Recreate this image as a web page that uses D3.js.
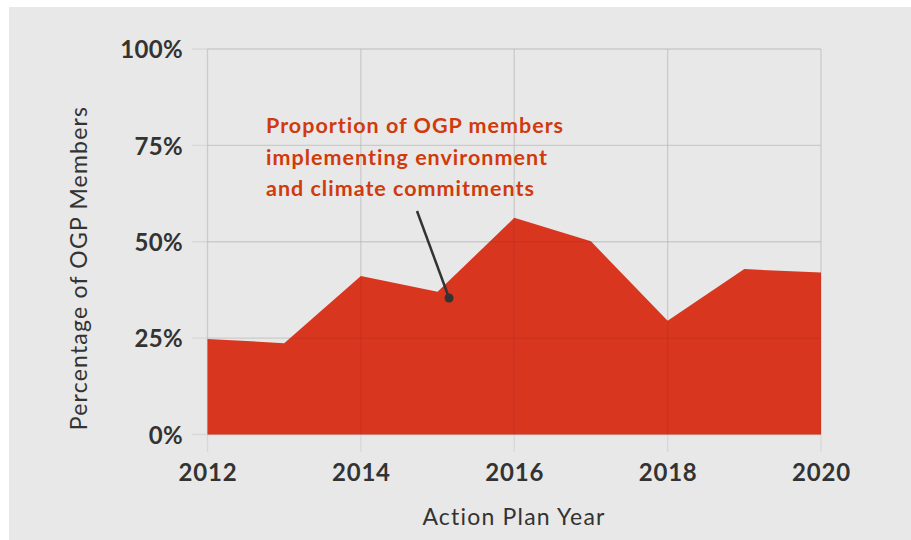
<!DOCTYPE html>
<html>
<head>
<meta charset="utf-8">
<script src="https://cdn.jsdelivr.net/npm/d3@7"></script>
<style>
  html, body { margin: 0; padding: 0; background: #ffffff; }
  svg { display: block; }
  text { font-family: Lato, "Open Sans", sans-serif; }
</style>
</head>
<body>
<svg id="chart" width="911" height="540"></svg>
<script>
// ---- Data ----
const years = [2012, 2013, 2014, 2015, 2016, 2017, 2018, 2019, 2020];
const shares = [24.8, 23.7, 41.1, 37.0, 56.2, 50.1, 29.5, 42.9, 42.0];
const xTicks = [2012, 2014, 2016, 2018, 2020];
const yTicks = [0, 25, 50, 75, 100];
const annotationLines = ["Proportion of OGP members", "implementing environment", "and climate commitments"];
const annotationTarget = [2015.15, 35.4];
const yTitle = "Percentage of OGP Members";
const xTitle = "Action Plan Year";

const data = years.map((y, i) => ({ year: y, value: shares[i] }));

const svg = d3.select("#chart");
svg.append("rect").attr("x", 9).attr("y", 7).attr("width", 902).attr("height", 533).attr("fill", "#e8e8e8");

const x = d3.scaleLinear().domain([2012, 2020]).range([207.5, 821]);
const y = d3.scaleLinear().domain([0, 100]).range([434.5, 49]);

const g = svg.append("g");

// gridlines (under)
const gridColor = "#d8d8d8";
g.selectAll(".hg").data(yTicks).enter().append("line")
  .attr("x1", 192).attr("x2", x(2020))
  .attr("y1", d => y(d)).attr("y2", d => y(d))
  .attr("stroke", gridColor).attr("stroke-width", 1.3);
g.selectAll(".vg").data(xTicks).enter().append("line")
  .attr("x1", d => x(d)).attr("x2", d => x(d))
  .attr("y1", y(100)).attr("y2", 452)
  .attr("stroke", gridColor).attr("stroke-width", 1.3);

// area
const area = d3.area().x(d => x(d.year)).y0(y(0)).y1(d => y(d.value)).curve(d3.curveLinear);
g.append("path").datum(data).attr("d", area).attr("fill", "#d93620");

// gridlines over area (faint)
g.selectAll(".hg2").data(yTicks).enter().append("line")
  .attr("x1", x(2012)).attr("x2", x(2020))
  .attr("y1", d => y(d)).attr("y2", d => y(d))
  .attr("stroke", "rgba(0,0,0,0.06)").attr("stroke-width", 1.3);
g.selectAll(".vg2").data(xTicks).enter().append("line")
  .attr("x1", d => x(d)).attr("x2", d => x(d))
  .attr("y1", y(100)).attr("y2", y(0))
  .attr("stroke", "rgba(0,0,0,0.06)").attr("stroke-width", 1.3);

// axes labels via d3 axes
const yAxis = d3.axisLeft(y).tickValues(yTicks).tickFormat(d => d + "%").tickSize(0).tickPadding(0);
const ya = svg.append("g").attr("transform", "translate(183,0)").call(yAxis);
ya.select(".domain").remove();
ya.selectAll("text").attr("font-size", 24).attr("font-weight", 700).attr("fill", "#333")
  .attr("font-family", "Lato, sans-serif").attr("letter-spacing", "0.3px").attr("dy", "0.36em");

const xAxis = d3.axisBottom(x).tickValues(xTicks).tickFormat(d3.format("d")).tickSize(0).tickPadding(0);
const xa = svg.append("g").attr("transform", "translate(0,481)").call(xAxis);
xa.select(".domain").remove();
xa.selectAll("text").attr("font-size", 24).attr("font-weight", 700).attr("fill", "#333")
  .attr("font-family", "Lato, sans-serif").attr("letter-spacing", "0.8px").attr("dy", "0");

// axis titles
svg.append("text").attr("transform", "translate(87,268) rotate(-90)")
  .attr("text-anchor", "middle").attr("font-size", 23).attr("letter-spacing", "1.2px")
  .attr("fill", "#333").text(yTitle);
svg.append("text").attr("x", 514).attr("y", 525)
  .attr("text-anchor", "middle").attr("font-size", 23).attr("letter-spacing", "1.2px")
  .attr("fill", "#333").text(xTitle);

// annotation
const ann = svg.append("text").attr("x", 266).attr("y", 133)
  .attr("font-size", 21.5).attr("font-weight", 700).attr("letter-spacing", "1px").attr("fill", "#d03a0c");
annotationLines.forEach((t, i) => {
  ann.append("tspan").attr("x", 266).attr("y", 133 + i * 31.5).text(t);
});
svg.append("line").attr("x1", 417).attr("y1", 211)
  .attr("x2", x(annotationTarget[0])).attr("y2", y(annotationTarget[1]))
  .attr("stroke", "#333").attr("stroke-width", 2.5);
svg.append("circle").attr("cx", x(annotationTarget[0])).attr("cy", y(annotationTarget[1]))
  .attr("r", 4.5).attr("fill", "#333");
</script>
</body>
</html>
